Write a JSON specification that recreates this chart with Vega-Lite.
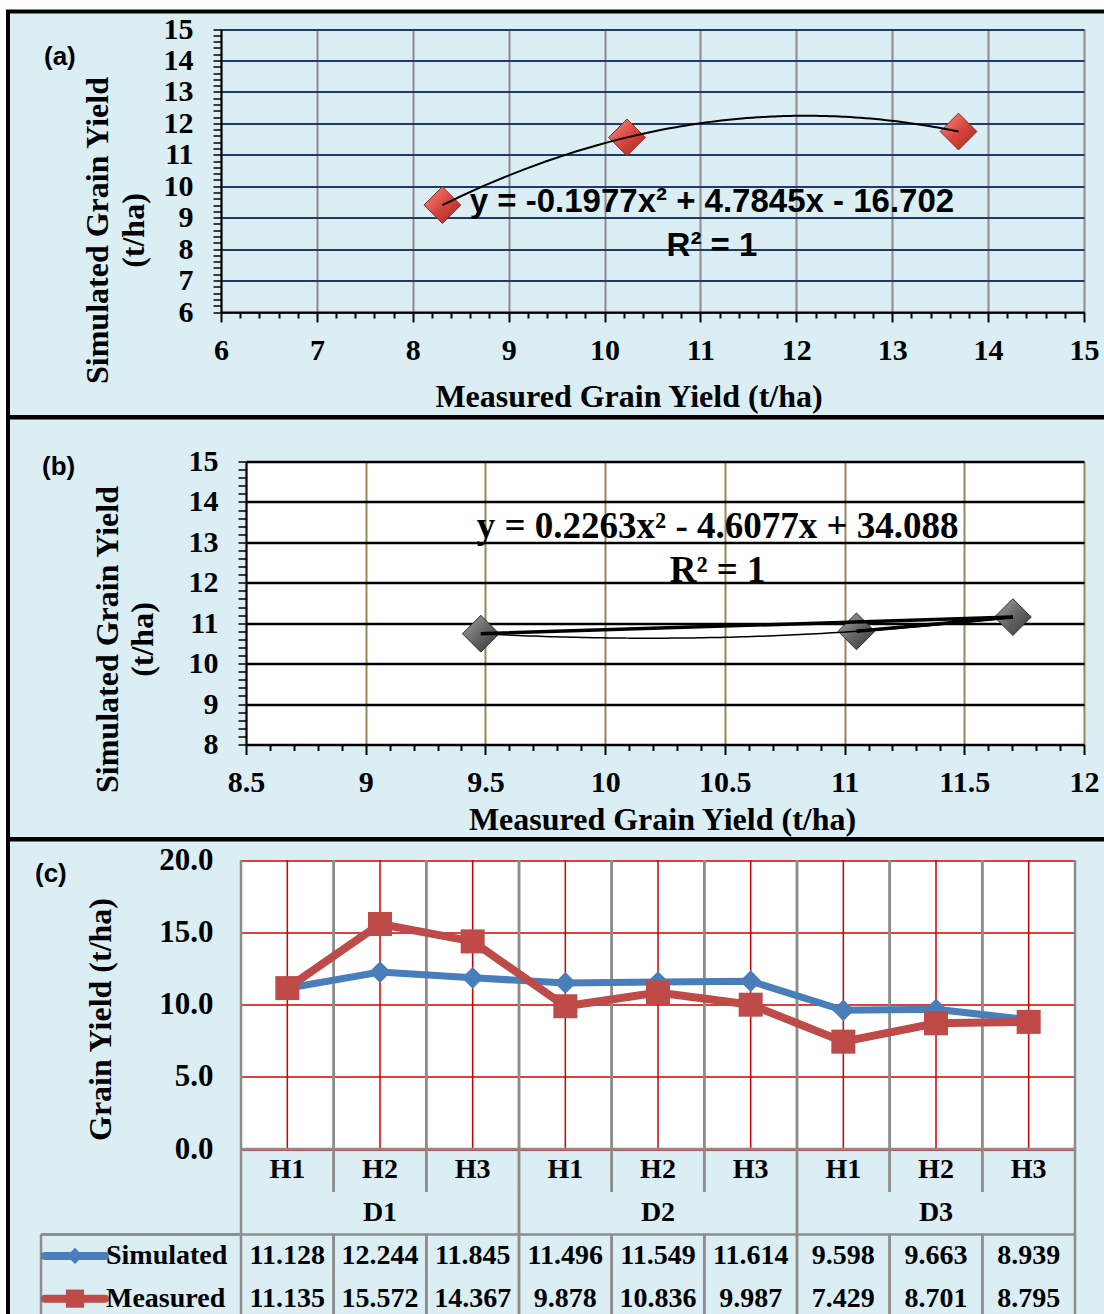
{
  "$schema": "https://vega.github.io/schema/vega-lite/v6.json",
  "background": "white",
  "padding": {"left": 6, "top": 9.5, "right": 0, "bottom": 0},
  "spacing": 0,
  "bounds": "flush",
  "config": {
    "view": {"fill": "#DBEEF4", "stroke": "black", "strokeWidth": 4},
    "axis": {"labelFont": "Liberation Serif", "labelFontSize": 30, "labelFontWeight": "bold", "labelColor": "black", "titleFont": "Liberation Serif", "titleFontSize": 32, "titleFontWeight": "bold", "titleColor": "black", "labelFlush": false, "labelOverlap": false, "labelBound": false},
    "text": {"font": "Liberation Serif", "fontWeight": "bold", "fontSize": 28, "color": "black"},
    "title": {"font": "Liberation Sans", "fontSize": 26, "fontWeight": "bold", "color": "black", "anchor": "start", "frame": "group", "offset": 0, "baseline": "middle"}
  },
  "datasets": {
    "yield": [
      {"D": "D1", "H": "H1", "cat": "D1H1", "Simulated": 11.128, "Measured": 11.135},
      {"D": "D1", "H": "H2", "cat": "D1H2", "Simulated": 12.244, "Measured": 15.572},
      {"D": "D1", "H": "H3", "cat": "D1H3", "Simulated": 11.845, "Measured": 14.367},
      {"D": "D2", "H": "H1", "cat": "D2H1", "Simulated": 11.496, "Measured": 9.878},
      {"D": "D2", "H": "H2", "cat": "D2H2", "Simulated": 11.549, "Measured": 10.836},
      {"D": "D2", "H": "H3", "cat": "D2H3", "Simulated": 11.614, "Measured": 9.987},
      {"D": "D3", "H": "H1", "cat": "D3H1", "Simulated": 9.598, "Measured": 7.429},
      {"D": "D3", "H": "H2", "cat": "D3H2", "Simulated": 9.663, "Measured": 8.701},
      {"D": "D3", "H": "H3", "cat": "D3H3", "Simulated": 8.939, "Measured": 8.795}
    ],
    "series": [{"series": "Simulated"}, {"series": "Measured"}]
  },
  "vconcat": [
    {
      "width": 1100,
      "height": 405.5,
      "title": {"text": "(a)", "dx": 36, "dy": 62.5},
      "resolve": {"axis": {"x": "independent"}},
      "layer": [
        {
          "data": {"values": [{}]},
          "mark": {"type": "point", "opacity": 0},
          "encoding": {
            "x": {"datum": 10, "type": "quantitative", "scale": {"domain": [6, 15], "range": [213, 1076], "nice": false, "zero": false},
              "axis": {"orient": "top", "values": [6, 7, 8, 9, 10, 11, 12, 13, 14, 15], "grid": true, "gridColor": "#8C8C8C", "gridWidth": 2, "gridOpacity": 1, "ticks": false, "labels": false, "domain": false, "title": null}},
            "y": {"datum": 10, "type": "quantitative", "scale": {"domain": [6, 15], "range": [300.5, 17.5], "nice": false, "zero": false}}
          }
        },
        {
          "data": {"name": "yield"},
          "transform": [{"aggregate": [{"op": "mean", "field": "Measured", "as": "Measured"}, {"op": "mean", "field": "Simulated", "as": "Simulated"}], "groupby": ["D"]}],
          "mark": {"type": "point", "shape": "diamond", "filled": true, "size": 1350, "opacity": 1, "fill": {"gradient": "linear", "x1": 0, "y1": 0, "x2": 1, "y2": 1, "stops": [{"offset": 0, "color": "#F4948B"}, {"offset": 0.5, "color": "#D9463E"}, {"offset": 1, "color": "#9E2A24"}]}, "stroke": "#8B2520", "strokeWidth": 1},
          "encoding": {
            "x": {"field": "Measured", "type": "quantitative", "scale": {"domain": [6, 15], "range": [213, 1076], "nice": false, "zero": false},
              "axis": {"orient": "bottom", "offset": -105, "tickCount": 45, "labelExpr": "datum.value % 1 === 0 ? '' + datum.value : ''", "labelBaseline": "middle", "labelPadding": 28,
                "tickSize": {"condition": {"test": "datum.value % 1 === 0", "value": 10}, "value": 6}, "tickColor": "black", "tickWidth": 2, "domainColor": "black", "domainWidth": 2,
                "grid": false,
                "title": "Measured Grain Yield (t/ha)", "titleX": 620.5, "titleY": 84, "titleBaseline": "middle", "titleAlign": "center"}},
            "y": {"field": "Simulated", "type": "quantitative", "scale": {"domain": [6, 15], "range": [300.5, 17.5], "nice": false, "zero": false},
              "axis": {"orient": "left", "offset": -213, "tickCount": 45, "labelExpr": "datum.value % 1 === 0 ? '' + datum.value : ''", "labelPadding": 20,
                "tickSize": 8, "tickColor": "black", "tickWidth": 1.5, "domainColor": "black", "domainWidth": 2,
                "grid": true, "gridColor": "#1F3A6E", "gridWidth": 2, "gridOpacity": {"condition": {"test": "datum.value % 1 === 0", "value": 1}, "value": 0},
                "title": ["Simulated Grain Yield", "(t/ha)"], "titleX": -124, "titleY": 218.5, "titleBaseline": "middle", "titleAlign": "center", "titleLineHeight": 36}}
          }
        },
        {
          "data": {"name": "yield"},
          "transform": [
            {"aggregate": [{"op": "mean", "field": "Measured", "as": "Measured"}, {"op": "mean", "field": "Simulated", "as": "Simulated"}], "groupby": ["D"]},
            {"regression": "Simulated", "on": "Measured", "method": "poly", "order": 2}
          ],
          "mark": {"type": "line", "color": "black", "strokeWidth": 2},
          "encoding": {
            "x": {"field": "Measured", "type": "quantitative", "scale": {"domain": [6, 15], "range": [213, 1076], "nice": false, "zero": false}, "axis": null},
            "y": {"field": "Simulated", "type": "quantitative", "scale": {"domain": [6, 15], "range": [300.5, 17.5], "nice": false, "zero": false}}
          }
        },
        {
          "data": {"values": [{}]},
          "mark": {"type": "text", "font": "Liberation Sans", "fontSize": 33, "fontWeight": "bold", "align": "center", "baseline": "middle"},
          "encoding": {"x": {"datum": 11.12, "type": "quantitative", "axis": null}, "y": {"datum": 9.5, "type": "quantitative"}, "text": {"value": "y = -0.1977x² + 4.7845x - 16.702"}}
        },
        {
          "data": {"values": [{}]},
          "mark": {"type": "text", "font": "Liberation Sans", "fontSize": 33, "fontWeight": "bold", "align": "center", "baseline": "middle"},
          "encoding": {"x": {"datum": 11.12, "type": "quantitative", "axis": null}, "y": {"datum": 8.1, "type": "quantitative"}, "text": {"value": "R² = 1"}}
        }
      ]
    },
    {
      "width": 1100,
      "height": 421.5,
      "title": {"text": "(b)", "dx": 34, "dy": 66},
      "resolve": {"axis": {"x": "independent"}},
      "layer": [
        {
          "data": {"values": [{}]},
          "mark": {"type": "point", "opacity": 0},
          "encoding": {
            "x": {"datum": 10.25, "type": "quantitative", "scale": {"domain": [8.5, 12], "range": [238, 1076], "nice": false, "zero": false},
              "axis": {"orient": "top", "values": [10.25], "grid": true, "gridWidth": 838, "gridColor": "white", "gridOpacity": 1, "ticks": false, "labels": false, "domain": false, "title": null}},
            "y": {"datum": 11.5, "type": "quantitative", "scale": {"domain": [8, 15], "range": [327, 44], "nice": false, "zero": false}}
          }
        },
        {
          "data": {"values": [{}]},
          "mark": {"type": "point", "opacity": 0},
          "encoding": {
            "x": {"datum": 10.25, "type": "quantitative", "scale": {"domain": [8.5, 12], "range": [238, 1076], "nice": false, "zero": false},
              "axis": {"orient": "top", "values": [8.5, 9, 9.5, 10, 10.5, 11, 11.5, 12], "grid": true, "gridWidth": 2, "gridColor": "#948A54", "gridOpacity": 1, "ticks": false, "labels": false, "domain": false, "title": null}},
            "y": {"datum": 11.5, "type": "quantitative", "scale": {"domain": [8, 15], "range": [327, 44], "nice": false, "zero": false}}
          }
        },
        {
          "data": {"name": "yield"},
          "transform": [{"aggregate": [{"op": "mean", "field": "Measured", "as": "Measured"}, {"op": "mean", "field": "Simulated", "as": "Simulated"}], "groupby": ["H"]}],
          "mark": {"type": "point", "shape": "diamond", "filled": true, "size": 1350, "opacity": 1, "fill": {"gradient": "linear", "x1": 0, "y1": 0, "x2": 1, "y2": 1, "stops": [{"offset": 0, "color": "#A6A6A6"}, {"offset": 0.5, "color": "#676767"}, {"offset": 1, "color": "#353535"}]}, "stroke": "#2E2E2E", "strokeWidth": 1},
          "encoding": {
            "x": {"field": "Measured", "type": "quantitative", "scale": {"domain": [8.5, 12], "range": [238, 1076], "nice": false, "zero": false},
              "axis": {"orient": "bottom", "offset": -94.5, "tickCount": 35, "labelExpr": "(datum.value * 2) % 1 === 0 ? '' + datum.value : ''", "labelBaseline": "middle", "labelPadding": 28,
                "tickSize": {"condition": {"test": "(datum.value * 2) % 1 === 0", "value": 10}, "value": 6}, "tickColor": "black", "tickWidth": 2, "domainColor": "black", "domainWidth": 2,
                "grid": false,
                "title": "Measured Grain Yield (t/ha)", "titleX": 654, "titleY": 75, "titleBaseline": "middle", "titleAlign": "center"}},
            "y": {"field": "Simulated", "type": "quantitative", "scale": {"domain": [8, 15], "range": [327, 44], "nice": false, "zero": false},
              "axis": {"orient": "left", "offset": -238, "tickCount": 35, "labelExpr": "datum.value % 1 === 0 ? '' + datum.value : ''", "labelPadding": 20,
                "tickSize": 8, "tickColor": "black", "tickWidth": 1.5, "domainColor": "black", "domainWidth": 2,
                "grid": true, "gridColor": "black", "gridWidth": 2.5, "gridOpacity": {"condition": {"test": "datum.value % 1 === 0", "value": 1}, "value": 0},
                "title": ["Simulated Grain Yield", "(t/ha)"], "titleX": -139, "titleY": 221.5, "titleBaseline": "middle", "titleAlign": "center", "titleLineHeight": 35}}
          }
        },
        {
          "data": {"name": "yield"},
          "transform": [{"aggregate": [{"op": "mean", "field": "Measured", "as": "Measured"}, {"op": "mean", "field": "Simulated", "as": "Simulated"}], "groupby": ["H"]}],
          "mark": {"type": "line", "color": "black", "strokeWidth": 3.5},
          "encoding": {
            "x": {"field": "Measured", "type": "quantitative", "scale": {"domain": [8.5, 12], "range": [238, 1076], "nice": false, "zero": false}, "axis": null},
            "y": {"field": "Simulated", "type": "quantitative", "scale": {"domain": [8, 15], "range": [327, 44], "nice": false, "zero": false}},
            "order": {"field": "H"}
          }
        },
        {
          "data": {"name": "yield"},
          "transform": [
            {"aggregate": [{"op": "mean", "field": "Measured", "as": "Measured"}, {"op": "mean", "field": "Simulated", "as": "Simulated"}], "groupby": ["H"]},
            {"regression": "Simulated", "on": "Measured", "method": "poly", "order": 2}
          ],
          "mark": {"type": "line", "color": "black", "strokeWidth": 1.5},
          "encoding": {
            "x": {"field": "Measured", "type": "quantitative", "scale": {"domain": [8.5, 12], "range": [238, 1076], "nice": false, "zero": false}, "axis": null},
            "y": {"field": "Simulated", "type": "quantitative", "scale": {"domain": [8, 15], "range": [327, 44], "nice": false, "zero": false}}
          }
        },
        {
          "data": {"values": [{}]},
          "mark": {"type": "text", "fontSize": 37, "align": "center", "baseline": "middle"},
          "encoding": {"x": {"datum": 10.47, "type": "quantitative", "axis": null}, "y": {"datum": 13.37, "type": "quantitative"}, "text": {"value": "y = 0.2263x² - 4.6077x + 34.088"}}
        },
        {
          "data": {"values": [{}]},
          "mark": {"type": "text", "fontSize": 37, "align": "center", "baseline": "middle"},
          "encoding": {"x": {"datum": 10.47, "type": "quantitative", "axis": null}, "y": {"datum": 12.3, "type": "quantitative"}, "text": {"value": "R² = 1"}}
        }
      ]
    },
    {
      "width": 1100,
      "height": 491.5,
      "title": {"text": "(c)", "dx": 27, "dy": 51.5},
      "resolve": {"scale": {"x": "independent", "y": "independent"}, "axis": {"x": "independent", "y": "independent"}},
      "layer": [
        {
          "data": {"name": "yield"},
          "layer": [
            {
              "mark": {"type": "rule", "color": "#8C8C8C", "strokeWidth": 2.5},
              "encoding": {
                "x": {"field": "cat", "type": "nominal", "bandPosition": 0, "scale": {"domain": ["D1H1","D1H2","D1H3","D2H1","D2H2","D2H3","D3H1","D3H2","D3H3"], "range": [233, 1067], "paddingInner": 0, "paddingOuter": 0}},
                "y": {"datum": 0, "type": "quantitative", "scale": {"domain": [0, 20], "range": [309.5, 20.5], "nice": false, "zero": false}},
                "y2": {"datum": 20}
              }
            },
            {
              "mark": {"type": "rule", "color": "#8C8C8C", "strokeWidth": 2.5},
              "encoding": {
                "x": {"field": "cat", "type": "nominal", "bandPosition": 1, "scale": {"domain": ["D1H1","D1H2","D1H3","D2H1","D2H2","D2H3","D3H1","D3H2","D3H3"], "range": [233, 1067], "paddingInner": 0, "paddingOuter": 0}},
                "y": {"datum": 0, "type": "quantitative", "scale": {"domain": [0, 20], "range": [309.5, 20.5], "nice": false, "zero": false}},
                "y2": {"datum": 20}
              }
            },
            {
              "mark": {"type": "rule", "color": "#D00000", "strokeWidth": 1.5},
              "encoding": {
                "x": {"field": "cat", "type": "nominal", "scale": {"domain": ["D1H1","D1H2","D1H3","D2H1","D2H2","D2H3","D3H1","D3H2","D3H3"], "range": [233, 1067], "paddingInner": 0, "paddingOuter": 0},
                  "axis": {"orient": "top", "values": ["D2H2"], "bandPosition": 0.5, "grid": true, "gridWidth": 834, "gridColor": "white", "gridOpacity": 1, "ticks": false, "labels": false, "domain": false, "title": null}},
                "y": {"datum": 0, "type": "quantitative", "scale": {"domain": [0, 20], "range": [309.5, 20.5], "nice": false, "zero": false}},
                "y2": {"datum": 20}
              }
            },
            {
              "mark": {"type": "line", "color": "#4A7EBB", "strokeWidth": 7},
              "encoding": {
                "x": {"field": "cat", "type": "nominal", "scale": {"domain": ["D1H1","D1H2","D1H3","D2H1","D2H2","D2H3","D3H1","D3H2","D3H3"], "range": [233, 1067], "paddingInner": 0, "paddingOuter": 0}},
                "y": {"field": "Simulated", "type": "quantitative", "scale": {"domain": [0, 20], "range": [309.5, 20.5], "nice": false, "zero": false},
                  "axis": {"orient": "left", "offset": -233, "values": [0, 5, 10, 15, 20], "format": ".1f", "ticks": false, "tickSize": 0, "domain": false, "labelPadding": 28, "labelFontSize": 31,
                    "grid": true, "gridColor": "#D00000", "gridWidth": 1.5, "gridOpacity": 1,
                    "title": "Grain Yield (t/ha)", "titleX": -141, "titleY": 179.5, "titleBaseline": "middle", "titleAlign": "center"}}
              }
            },
            {
              "mark": {"type": "point", "shape": "diamond", "filled": true, "size": 470, "color": "#4A7EBB", "opacity": 1},
              "encoding": {
                "x": {"field": "cat", "type": "nominal"},
                "y": {"field": "Simulated", "type": "quantitative"}
              }
            },
            {
              "mark": {"type": "line", "color": "#BE4B48", "strokeWidth": 8},
              "encoding": {
                "x": {"field": "cat", "type": "nominal"},
                "y": {"field": "Measured", "type": "quantitative"}
              }
            },
            {
              "mark": {"type": "point", "shape": "square", "filled": true, "size": 576, "color": "#BE4B48", "opacity": 1},
              "encoding": {
                "x": {"field": "cat", "type": "nominal"},
                "y": {"field": "Measured", "type": "quantitative"}
              }
            }
          ]
        },
        {
          "data": {"name": "yield"},
          "encoding": {
            "x": {"field": "cat", "type": "nominal", "scale": {"domain": ["D1H1","D1H2","D1H3","D2H1","D2H2","D2H3","D3H1","D3H2","D3H3"], "range": [233, 1067], "paddingInner": 0, "paddingOuter": 0}, "axis": null}
          },
          "layer": [
            {
              "mark": {"type": "text", "align": "center", "baseline": "middle"},
              "encoding": {"y": {"datum": "H", "type": "nominal", "scale": {"domain": ["H", "D", "Simulated", "Measured"], "range": [309.5, 480.5], "paddingInner": 0, "paddingOuter": 0}, "axis": null}, "text": {"field": "H"}}
            },
            {
              "transform": [{"filter": "datum.H === 'H2'"}],
              "mark": {"type": "text", "align": "center", "baseline": "middle"},
              "encoding": {"y": {"datum": "D", "type": "nominal", "axis": null}, "text": {"field": "D"}}
            },
            {
              "mark": {"type": "text", "align": "center", "baseline": "middle"},
              "encoding": {"y": {"datum": "Simulated", "type": "nominal", "axis": null}, "text": {"field": "Simulated", "format": ".3f"}}
            },
            {
              "mark": {"type": "text", "align": "center", "baseline": "middle"},
              "encoding": {"y": {"datum": "Measured", "type": "nominal", "axis": null}, "text": {"field": "Measured", "format": ".3f"}}
            },
            {
              "mark": {"type": "tick", "orient": "vertical", "size": 43, "thickness": 2.5, "color": "#8C8C8C", "opacity": 1},
              "encoding": {"x": {"field": "cat", "type": "nominal", "bandPosition": 0, "axis": null}, "y": {"datum": "H", "type": "nominal", "axis": null}}
            },
            {
              "mark": {"type": "tick", "orient": "vertical", "size": 43, "thickness": 2.5, "color": "#8C8C8C", "opacity": 1},
              "encoding": {"x": {"field": "cat", "type": "nominal", "bandPosition": 1, "axis": null}, "y": {"datum": "H", "type": "nominal", "axis": null}}
            },
            {
              "transform": [{"filter": "datum.H === 'H1'"}],
              "mark": {"type": "tick", "orient": "vertical", "size": 43, "thickness": 2.5, "color": "#8C8C8C", "opacity": 1},
              "encoding": {"x": {"field": "cat", "type": "nominal", "bandPosition": 0, "axis": null}, "y": {"datum": "D", "type": "nominal", "axis": null}}
            },
            {
              "transform": [{"filter": "datum.H === 'H3'"}],
              "mark": {"type": "tick", "orient": "vertical", "size": 43, "thickness": 2.5, "color": "#8C8C8C", "opacity": 1},
              "encoding": {"x": {"field": "cat", "type": "nominal", "bandPosition": 1, "axis": null}, "y": {"datum": "D", "type": "nominal", "axis": null}}
            },
            {
              "mark": {"type": "tick", "orient": "vertical", "size": 43, "thickness": 2.5, "color": "#8C8C8C", "opacity": 1},
              "encoding": {"x": {"field": "cat", "type": "nominal", "bandPosition": 0, "axis": null}, "y": {"datum": "Simulated", "type": "nominal", "axis": null}}
            },
            {
              "mark": {"type": "tick", "orient": "vertical", "size": 43, "thickness": 2.5, "color": "#8C8C8C", "opacity": 1},
              "encoding": {"x": {"field": "cat", "type": "nominal", "bandPosition": 1, "axis": null}, "y": {"datum": "Simulated", "type": "nominal", "axis": null}}
            },
            {
              "mark": {"type": "tick", "orient": "vertical", "size": 43, "thickness": 2.5, "color": "#8C8C8C", "opacity": 1},
              "encoding": {"x": {"field": "cat", "type": "nominal", "bandPosition": 0, "axis": null}, "y": {"datum": "Measured", "type": "nominal", "axis": null}}
            },
            {
              "mark": {"type": "tick", "orient": "vertical", "size": 43, "thickness": 2.5, "color": "#8C8C8C", "opacity": 1},
              "encoding": {"x": {"field": "cat", "type": "nominal", "bandPosition": 1, "axis": null}, "y": {"datum": "Measured", "type": "nominal", "axis": null}}
            },
            {
              "mark": {"type": "tick", "orient": "horizontal", "size": 93, "thickness": 2.5, "color": "#8C8C8C", "opacity": 1},
              "encoding": {"x": {"field": "cat", "type": "nominal", "axis": null}, "y": {"datum": "H", "type": "nominal", "bandPosition": 0, "axis": null}}
            },
            {
              "mark": {"type": "tick", "orient": "horizontal", "size": 93, "thickness": 2.5, "color": "#8C8C8C", "opacity": 1},
              "encoding": {"x": {"field": "cat", "type": "nominal", "axis": null}, "y": {"datum": "Simulated", "type": "nominal", "bandPosition": 0, "axis": null}}
            }
          ]
        },
        {
          "data": {"name": "series"},
          "layer": [
            {
              "mark": {"type": "tick", "orient": "vertical", "size": 43, "thickness": 2.5, "color": "#8C8C8C", "opacity": 1},
              "encoding": {
                "x": {"datum": 0, "type": "quantitative", "scale": {"domain": [0, 1], "range": [33, 233], "nice": false, "zero": false}, "axis": null},
                "y": {"field": "series", "type": "nominal", "scale": {"domain": ["H", "D", "Simulated", "Measured"], "range": [309.5, 480.5], "paddingInner": 0, "paddingOuter": 0}, "axis": null}
              }
            },
            {
              "mark": {"type": "rule", "color": "#8C8C8C", "strokeWidth": 2.5},
              "encoding": {
                "x": {"datum": 0, "type": "quantitative", "axis": null},
                "x2": {"datum": 1},
                "y": {"datum": "Simulated", "type": "nominal", "bandPosition": 0, "axis": null}
              }
            },
            {
              "mark": {"type": "rule", "strokeWidth": 8, "strokeCap": "round"},
              "encoding": {
                "x": {"datum": 0.02, "type": "quantitative", "axis": null},
                "x2": {"datum": 0.32},
                "y": {"field": "series", "type": "nominal", "axis": null},
                "color": {"field": "series", "type": "nominal", "scale": {"domain": ["Simulated", "Measured"], "range": ["#4A7EBB", "#BE4B48"]}, "legend": null}
              }
            },
            {
              "mark": {"type": "point", "filled": true, "opacity": 1},
              "encoding": {
                "x": {"datum": 0.17, "type": "quantitative", "axis": null},
                "y": {"field": "series", "type": "nominal", "axis": null},
                "color": {"field": "series", "type": "nominal", "legend": null},
                "shape": {"field": "series", "type": "nominal", "scale": {"domain": ["Simulated", "Measured"], "range": ["diamond", "square"]}, "legend": null},
                "size": {"field": "series", "type": "nominal", "scale": {"domain": ["Simulated", "Measured"], "range": [260, 330]}, "legend": null}
              }
            },
            {
              "mark": {"type": "text", "align": "left", "baseline": "middle"},
              "encoding": {
                "x": {"datum": 0.325, "type": "quantitative", "axis": null},
                "y": {"field": "series", "type": "nominal", "axis": null},
                "text": {"field": "series"}
              }
            }
          ]
        }
      ]
    }
  ]
}
